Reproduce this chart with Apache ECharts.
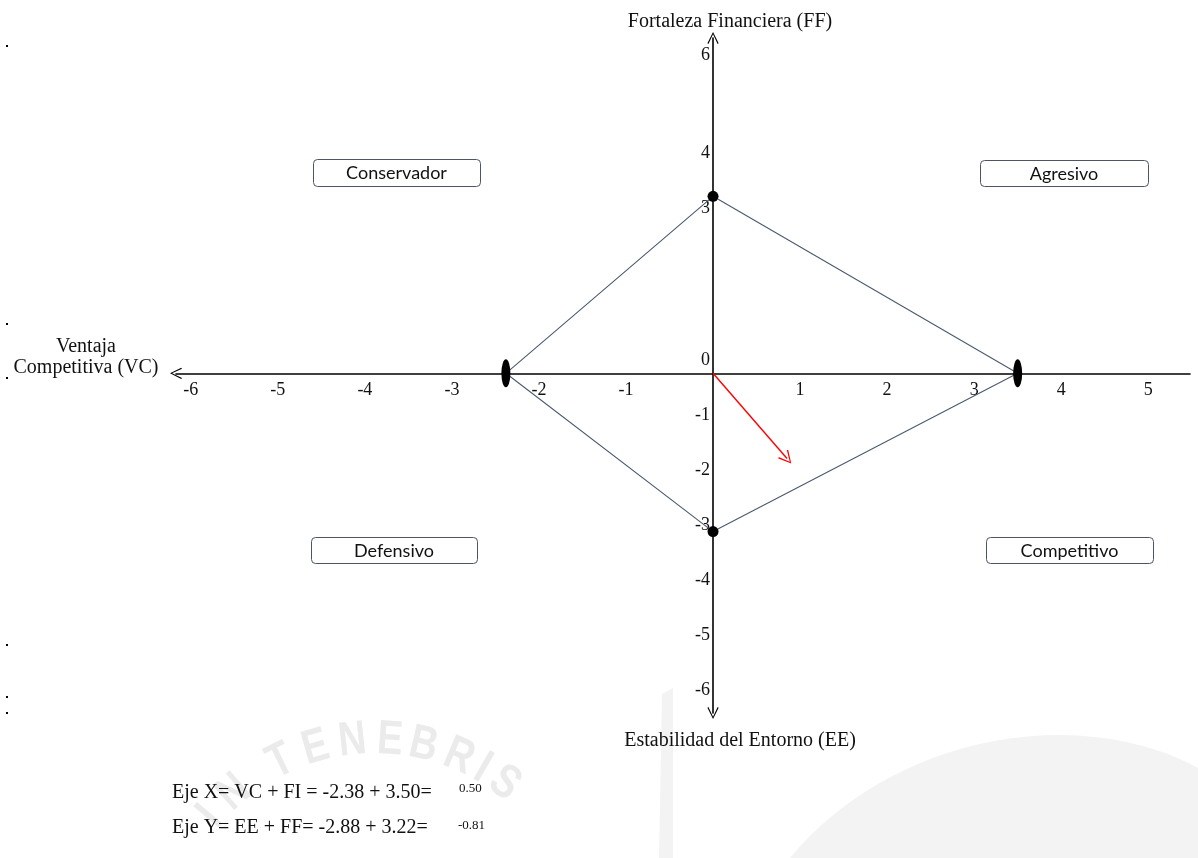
<!DOCTYPE html>
<html><head><meta charset="utf-8">
<script src="https://cdn.jsdelivr.net/npm/echarts@6/dist/echarts.min.js"></script>
<style>html,body{margin:0;padding:0;background:#fff}#c{width:1198px;height:858px}</style>
</head><body><div id="c"></div>
<script>
// ---- data ----
const xTickLabels = [-6, -5, -4, -3, -2, -1, 1, 2, 3, 4, 5];
const yTickLabels = [6, 4, 3, 0, -1, -2, -3, -4, -5, -6];
const VC = -2.38, FI = 3.50, EE = -2.88, FF = 3.22;
const vectorEnd = [0.85, -1.55];
const quadrantNames = ['Conservador', 'Agresivo', 'Defensivo', 'Competitivo'];
const formulaX = 'Eje X= VC + FI = -2.38 + 3.50=';
const resultX = '0.50';
const formulaY = 'Eje Y= EE + FF= -2.88 + 3.22=';
const resultY = '-0.81';

const diamond = [[VC, 0], [0, FF], [FI, 0], [0, EE], [VC, 0]];
const SERIF = 'Liberation Serif';
const CHEV = 'path://M0,10L5,0L10,10L9.1,10.7L5,1.9L0.9,10.7Z';

// layout
const W = 1198, H = 858;
const gridL = 176, gridR = 8, gridT = 38, gridB = 145;
const xMin = -6.17, xMax = 5.48, yMin = -6.18, yMax = 6.1;
const x0px = gridL + (0 - xMin) / (xMax - xMin) * (W - gridL - gridR);
const y0px = gridT + (yMax - 0) / (yMax - yMin) * (H - gridT - gridB);

const chart = echarts.init(document.getElementById('c'), null, {renderer: 'canvas'});

const boxes = [
  {x: 313, y: 159, w: 167, h: 27},
  {x: 980, y: 160, w: 168, h: 26},
  {x: 311, y: 537, w: 166, h: 26},
  {x: 986, y: 537, w: 167, h: 26}
];
const graphics = [];
// watermark (decorative)
graphics.push({type: 'polygon', z: -10, silent: true,
  shape: {points: [[662,694],[673,688],[673,858],[659,858]]}, style: {fill: '#f3f3f3'}});
function bez(p0, p1, p2, p3, n) {
  const out = [];
  for (let i = 0; i <= n; i++) {
    const t = i / n, u = 1 - t;
    out.push([u*u*u*p0[0] + 3*u*u*t*p1[0] + 3*u*t*t*p2[0] + t*t*t*p3[0],
              u*u*u*p0[1] + 3*u*u*t*p1[1] + 3*u*t*t*p2[1] + t*t*t*p3[1]]);
  }
  return out;
}
const swoosh = bez([790,858],[850,785],[950,735],[1060,735],20)
  .concat(bez([1060,735],[1120,735],[1170,752],[1198,768],10)).concat([[1198,858]]);
graphics.push({type: 'polygon', z: -10, silent: true, shape: {points: swoosh}, style: {fill: '#f3f3f3'}});
const wmChars = [['I',-50],['N',-41],['T',-26],['E',-16],['N',-6],['E',4],['B',13],['R',23],['I',30],['S',37]];
const cx = 375, cy = 955, rr = 215;
wmChars.forEach(function (c) {
  const a = c[1] * Math.PI / 180;
  graphics.push({type: 'text', z: -9, silent: true,
    x: cx + rr * Math.sin(a), y: cy - rr * Math.cos(a), rotation: -a, scaleX: 0.8,
    style: {text: c[0], fill: '#ebebeb', font: 'bold 48px "Liberation Sans"', align: 'center', verticalAlign: 'middle'}});
});
// stray dots on left margin
[46, 324, 378, 645, 697, 713].forEach(function (y) {
  graphics.push({type: 'rect', shape: {x: 6, y: y - 1, width: 2, height: 2}, style: {fill: '#000'}});
});
boxes.forEach(function (b, i) {
  graphics.push({type: 'rect', shape: {x: b.x + 0.5, y: b.y + 0.5, width: b.w, height: b.h, r: 4},
    style: {fill: '#fff', stroke: '#4b5566', lineWidth: 1}});
  graphics.push({type: 'text', x: b.x + b.w / 2, y: b.y + b.h / 2 + 1,
    style: {text: quadrantNames[i], font: '18px Lato', fill: '#111', align: 'center', verticalAlign: 'middle'}});
});
// axis titles
const tfont = '20px "Liberation Serif"';
graphics.push({type: 'text', x: 730, y: 22, style: {text: 'Fortaleza Financiera (FF)', font: tfont, fill: '#111', align: 'center', verticalAlign: 'middle'}});
graphics.push({type: 'text', x: 740, y: 741, style: {text: 'Estabilidad del Entorno (EE)', font: tfont, fill: '#111', align: 'center', verticalAlign: 'middle'}});
graphics.push({type: 'text', x: 86, y: 347, style: {text: 'Ventaja', font: tfont, fill: '#111', align: 'center', verticalAlign: 'middle'}});
graphics.push({type: 'text', x: 86, y: 368, style: {text: 'Competitiva (VC)', font: tfont, fill: '#111', align: 'center', verticalAlign: 'middle'}});
// formulas
const ffont = '20px "Liberation Serif"';
graphics.push({type: 'text', x: 172, y: 793, style: {text: formulaX, font: ffont, fill: '#111', align: 'left', verticalAlign: 'middle'}});
graphics.push({type: 'text', x: 459, y: 789, style: {text: resultX, font: '13px "Liberation Serif"', fill: '#111', align: 'left', verticalAlign: 'middle'}});
graphics.push({type: 'text', x: 172, y: 828, style: {text: formulaY, font: ffont, fill: '#111', align: 'left', verticalAlign: 'middle'}});
graphics.push({type: 'text', x: 458, y: 826, style: {text: resultY, font: '13px "Liberation Serif"', fill: '#111', align: 'left', verticalAlign: 'middle'}});

const option = {
  animation: false,
  backgroundColor: '#fff',
  grid: {left: gridL, right: gridR, top: gridT, bottom: gridB, containLabel: false},
  xAxis: {
    type: 'value', min: xMin, max: xMax, offset: -((H - gridB) - y0px),
    axisLine: {onZero: false, lineStyle: {color: '#000', width: 1.6}, symbol: [CHEV, 'none'], symbolSize: [13, 12]},
    axisTick: {show: false}, splitLine: {show: false},
    axisLabel: {customValues: xTickLabels, margin: 8, color: '#111', fontFamily: SERIF, fontSize: 18,
      showMinLabel: true, showMaxLabel: true, hideOverlap: false,
      formatter: function (v) { return String(v); }}
  },
  yAxis: {
    type: 'value', min: yMin, max: yMax, offset: -(x0px - gridL),
    axisLine: {onZero: false, lineStyle: {color: '#000', width: 1.6}, symbol: [CHEV, CHEV], symbolSize: [13, 12]},
    axisTick: {show: false}, splitLine: {show: false},
    axisLabel: {customValues: yTickLabels, margin: 3, color: '#111', fontFamily: SERIF, fontSize: 18,
      showMinLabel: true, showMaxLabel: true, hideOverlap: false,
      formatter: function (v) {
        if (v <= 0) return '{z|' + v + '}';
        if (v === yTickLabels[0]) return '{t|' + v + '}';
        return String(v);
      },
      rich: {
        z: {fontFamily: SERIF, fontSize: 18, color: '#111', padding: [0, 0, 26, 0]},
        t: {fontFamily: SERIF, fontSize: 18, color: '#111', padding: [24, 0, 0, 0]}
      }}
  },
  series: [
    {type: 'line', data: diamond, symbol: 'none', lineStyle: {color: '#4b5a70', width: 1.1}, z: 3},
    {type: 'scatter', data: [[VC, 0], [FI, 0]], symbol: 'circle', symbolSize: [9, 28],
      itemStyle: {color: '#000', opacity: 1}, z: 4},
    {type: 'scatter', data: [[0, FF], [0, EE]], symbol: 'circle', symbolSize: 11,
      itemStyle: {color: '#000', opacity: 1}, z: 4},
    {type: 'lines', coordinateSystem: 'cartesian2d', z: 5,
      symbol: ['none', CHEV], symbolSize: [14, 13],
      lineStyle: {color: '#ff0000', width: 1.4, opacity: 1},
      data: [{coords: [[0, 0], vectorEnd]}]}
  ],
  graphic: graphics
};
chart.setOption(option);
</script>
</body></html>
